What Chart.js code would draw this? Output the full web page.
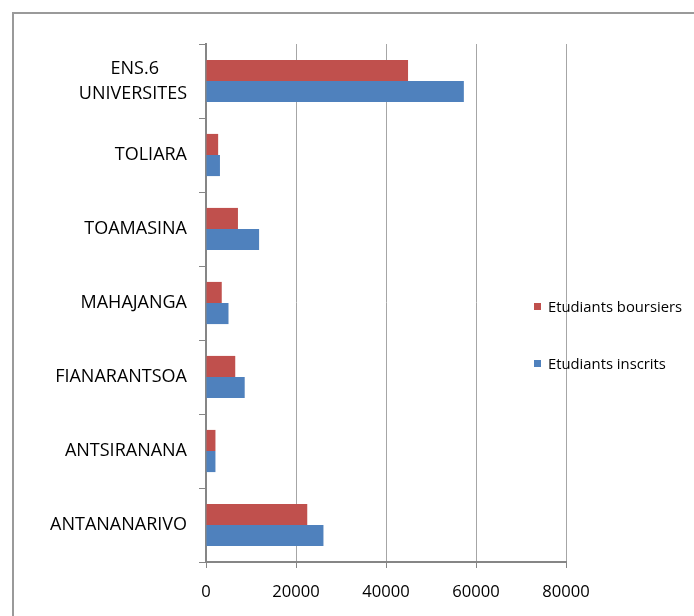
<!DOCTYPE html>
<html><head><meta charset="utf-8">
<script src="https://cdn.jsdelivr.net/npm/chart.js@4/dist/chart.umd.min.js"></script>
<style>
html,body{margin:0;padding:0;width:694px;height:616px;overflow:hidden;background:#fff;}
#frame{position:absolute;left:12px;top:12px;width:720px;height:640px;border-left:2px solid #9a9a9a;border-top:2px solid #9a9a9a;}
#wrap{position:absolute;left:0;top:0;width:694px;height:616px;}
#legend{position:absolute;left:0;top:0;font-family:'Open Sans';font-size:14.8px;color:#000;}
.item{position:absolute;white-space:nowrap;display:flex;align-items:center;height:20px;line-height:20px;}
.sw{width:7px;height:7px;margin-right:7px;}
</style></head><body>
<div id="frame"></div>
<div id="wrap"><canvas id="c" width="694" height="616"></canvas></div>
<div id="legend"></div>
<script>
const categories = [['ENS.6','UNIVERSITES'],'TOLIARA','TOAMASINA','MAHAJANGA','FIANARANTSOA','ANTSIRANANA','ANTANANARIVO'];
const seriesNames = ['Etudiants boursiers','Etudiants inscrits'];
const boursiers = [44900, 2700, 7100, 3500, 6500, 2100, 22500];
const inscrits = [57300, 3100, 11800, 5000, 8600, 2100, 26100];
const xTicks = [0, 20000, 40000, 60000, 80000];
const colors = ['#C0504D', '#4F81BD'];

const FONT = 'Open Sans';
const YSIZE = 18;
const mctx = document.createElement('canvas').getContext('2d');
mctx.font = YSIZE + 'px "' + FONT + '"';
function centerLines(lines){
  const ws = lines.map(l => mctx.measureText(l).width);
  const maxW = Math.max(...ws);
  const sp = mctx.measureText('\u00a0').width || 4;
  return lines.map((l,i) => l + '\u00a0'.repeat(Math.round((maxW - ws[i]) / 2 / sp)));
}

const chart = new Chart(document.getElementById('c'), {
  type: 'bar',
  data: {
    labels: categories,
    datasets: [
      {label: seriesNames[0], data: boursiers, backgroundColor: colors[0]},
      {label: seriesNames[1], data: inscrits, backgroundColor: colors[1]}
    ]
  },
  options: {
    indexAxis: 'y',
    responsive: false,
    animation: false,
    layout: {padding: {top: 44, right: 128, bottom: 0, left: 0}},
    plugins: {legend: {display: false}, tooltip: {enabled: false}},
    datasets: {bar: {categoryPercentage: 0.57, barPercentage: 1}},
    scales: {
      x: {
        min: 0, max: 80000,
        afterBuildTicks: s => { s.ticks = xTicks.map(v => ({value: v})); },
        afterFit: s => { s.height = 54; },
        grid: {color: c => c.index === 0 ? 'rgba(0,0,0,0)' : '#a6a6a6', lineWidth: 1, tickLength: 6, tickColor: '#868686'},
        border: {color: '#868686', width: 2},
        ticks: {padding: 14, color: '#000', font: {family: FONT, size: 16.6}, maxRotation: 0, callback: v => String(v)}
      },
      y: {
        afterFit: s => { s.width = 206; },
        grid: {drawOnChartArea: false, tickLength: 7, color: '#868686', offset: true},
        border: {color: '#868686', width: 2},
        ticks: {padding: 12, color: '#000', font: {family: FONT, size: YSIZE, lineHeight: 1.4},
          callback: function(v){ const l = this.getLabelForValue(v); return Array.isArray(l) ? centerLines(l) : l; }}
      }
    }
  }
});

// HTML legend built from the datasets
const legend = document.getElementById('legend');
const legendTops = [296, 353];
chart.data.datasets.forEach((ds, i) => {
  const it = document.createElement('div');
  it.className = 'item';
  it.style.left = '534px';
  it.style.top = legendTops[i] + 'px';
  const sw = document.createElement('span');
  sw.className = 'sw';
  sw.style.background = ds.backgroundColor;
  const tx = document.createElement('span');
  tx.textContent = ds.label;
  it.appendChild(sw); it.appendChild(tx);
  legend.appendChild(it);
});
</script>
</body></html>
